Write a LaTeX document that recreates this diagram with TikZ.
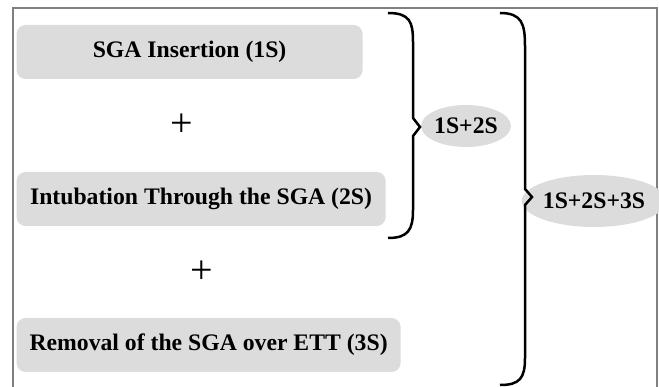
\documentclass[tikz,border=0pt]{standalone}
\usepackage{fontspec}
\setmainfont{Liberation Serif}
\usetikzlibrary{shapes.geometric,positioning}
\definecolor{boxgray}{HTML}{DCDCDC}
\definecolor{framegray}{HTML}{808080}

\begin{document}
\begin{tikzpicture}[x=1pt,y=-1pt,very thick,
  every node/.style={font=\bfseries\fontsize{23.7}{26}\selectfont},
  stage/.style={fill=boxgray,rounded corners=9pt,minimum height=54pt,anchor=west,inner sep=0pt},
  sum/.style={ellipse,fill=boxgray,inner sep=0pt},
  plus/.style={font=\fontsize{40}{42}\selectfont,inner sep=0pt}]
  \useasboundingbox (0,0) rectangle (659,387);
  \draw[framegray,line width=1.5pt] (13,387) |- (657,8) -- (657,387);
  \node[stage,minimum width=346pt] (1) at (16,52) {SGA Insertion (1S)};
  \node[plus] (p1) at (182,125) {+};
  \node[stage,minimum width=369pt] (2) at (16,199) {Intubation Through the SGA (2S)};
  \node[plus] (p2) at (202,272) {+};
  \node[stage,minimum width=384pt] (3) at (16,345) {Removal of the SGA over ETT (3S)};
  \node[sum,minimum width=83pt,minimum height=42pt] (s12) at (466,126) {1S+2S};
  \node[sum,minimum width=122pt,minimum height=52pt] (s123) at (594,201) {1S+2S+3S};
  % braces
  \draw[line width=2.5pt] (388,13) .. controls (410,13) and (413,22) .. (413,42)
    -- (413,118) -- (420,127) -- (413,136) -- (413,210)
    .. controls (413,230) and (408,238) .. (388,238);
  \draw[line width=2.5pt] (500,13) .. controls (522,13) and (525,24) .. (525,46)
    -- (525,189) -- (532,197) -- (525,205) -- (525,358)
    .. controls (525,378) and (520,385) .. (500,385);
\end{tikzpicture}
\end{document}
